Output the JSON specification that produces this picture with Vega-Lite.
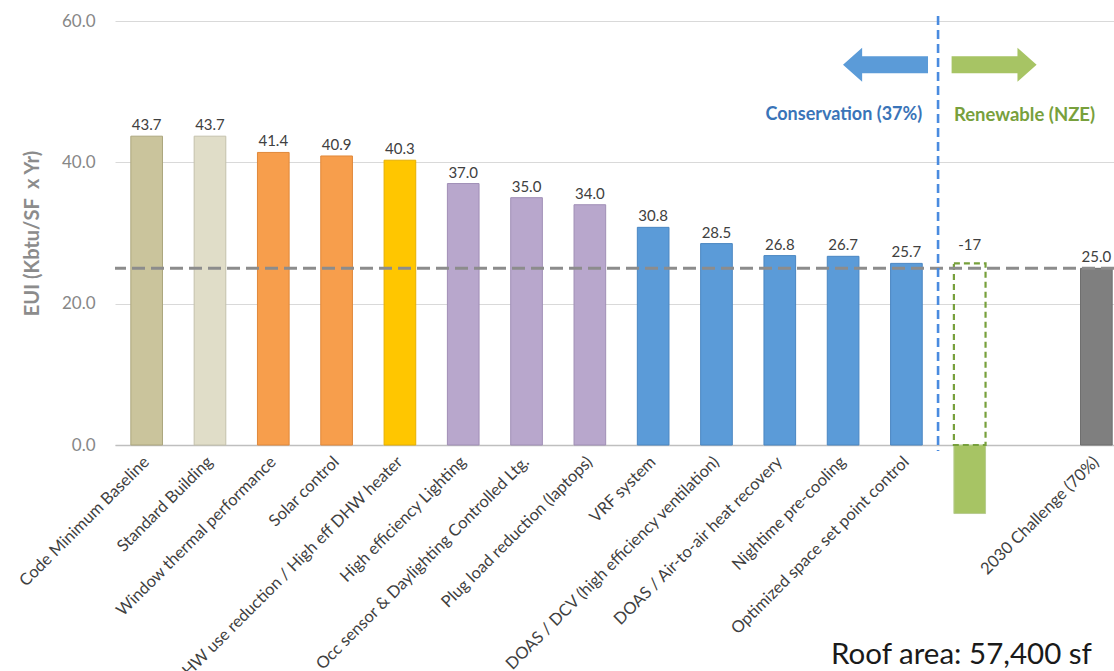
{
  "$schema": "https://vega.github.io/schema/vega-lite/v6.json",
  "width": 999,
  "height": 424,
  "autosize": {"type": "none"},
  "padding": {"left": 115, "top": 21, "right": 0, "bottom": 226},
  "background": "white",
  "config": {"view": {"stroke": null}, "font": "Lato"},
  "datasets": {
    "bars": [
      {"cat": "Code Minimum Baseline", "value": 43.7, "group": "Baseline"},
      {"cat": "Standard Building", "value": 43.7, "group": "Standard"},
      {"cat": "Window thermal performance", "value": 41.4, "group": "Envelope"},
      {"cat": "Solar control", "value": 40.9, "group": "Envelope"},
      {"cat": "DHW use reduction / High eff DHW heater", "value": 40.3, "group": "DHW"},
      {"cat": "High efficiency Lighting", "value": 37.0, "group": "Lighting"},
      {"cat": "Occ sensor & Daylighting Controlled Ltg.", "value": 35.0, "group": "Lighting"},
      {"cat": "Plug load reduction (laptops)", "value": 34.0, "group": "Lighting"},
      {"cat": "VRF system", "value": 30.8, "group": "HVAC"},
      {"cat": "DOAS / DCV (high efficiency ventilation)", "value": 28.5, "group": "HVAC"},
      {"cat": "DOAS / Air-to-air heat recovery", "value": 26.8, "group": "HVAC"},
      {"cat": "Nightime pre-cooling", "value": 26.7, "group": "HVAC"},
      {"cat": "Optimized space set point control", "value": 25.7, "group": "HVAC"},
      {"cat": "Renewable", "value": -9.7, "group": "Renewable"},
      {"cat": "2030 Challenge (70%)", "value": 25.0, "group": "Target"}
    ],
    "ghost": [
      {"cat": "Renewable", "from": 0, "to": 25.7, "label": "-17"}
    ],
    "arrows": [
      {"cat": "Nightime pre-cooling", "y": 53.8, "dir": "left"},
      {"cat": "Renewable", "y": 53.8, "dir": "right"}
    ]
  },
  "encoding": {
    "x": {
      "field": "cat",
      "type": "nominal",
      "sort": null,
      "scale": {
        "domain": ["Code Minimum Baseline", "Standard Building", "Window thermal performance", "Solar control", "DHW use reduction / High eff DHW heater", "High efficiency Lighting", "Occ sensor & Daylighting Controlled Ltg.", "Plug load reduction (laptops)", "VRF system", "DOAS / DCV (high efficiency ventilation)", "DOAS / Air-to-air heat recovery", "Nightime pre-cooling", "Optimized space set point control", "Renewable", "Gap", "2030 Challenge (70%)"],
        "range": [0, 1013],
        "paddingInner": 0.5,
        "paddingOuter": 0.25
      },
      "axis": {
        "title": null,
        "labelAngle": -45,
        "labelAlign": "right",
        "labelBaseline": "middle",
        "labelPadding": 14,
        "labelFontSize": 16.5,
        "labelColor": "#404040",
        "labelLimit": 0,
        "labelOverlap": false,
        "ticks": false,
        "domainColor": "#BFBFBF",
        "domainWidth": 1.5,
        "labelExpr": "datum.value == 'Renewable' || datum.value == 'Gap' ? '' : datum.value"
      }
    }
  },
  "layer": [
    {
      "data": {"name": "bars"},
      "mark": {"type": "bar", "strokeWidth": 1},
      "encoding": {
        "y": {
          "field": "value",
          "type": "quantitative",
          "scale": {"domain": [0, 60], "nice": false, "zero": false},
          "axis": {
            "title": "EUI (Kbtu/SF\u00a0 x Yr)",
            "titleFontSize": 20,
            "titleFontWeight": "bold",
            "titleColor": "#8C8C8C",
            "titlePadding": 19,
            "values": [0, 20, 40, 60],
            "format": ".1f",
            "labelFontSize": 17,
            "labelColor": "#878787",
            "labelPadding": 20,
            "ticks": false,
            "domain": false,
            "gridColor": "#D9D9D9",
            "gridWidth": 1.2
          }
        },
        "color": {
          "field": "group",
          "type": "nominal",
          "legend": null,
          "scale": {
            "domain": ["Baseline", "Standard", "Envelope", "DHW", "Lighting", "HVAC", "Renewable", "Target"],
            "range": ["#CAC49C", "#E0DDC8", "#F79E4C", "#FFC600", "#B8A7CC", "#5B9BD8", "#A7C464", "#7F7F7F"]
          }
        },
        "stroke": {
          "field": "group",
          "type": "nominal",
          "legend": null,
          "scale": {
            "domain": ["Baseline", "Standard", "Envelope", "DHW", "Lighting", "HVAC", "Renewable", "Target"],
            "range": ["#ACA67E", "#C4C1AC", "#E0883A", "#E6B000", "#A08FB6", "#4A86C2", "#B8CC90", "#6E6E6E"]
          }
        }
      }
    },
    {
      "data": {"name": "ghost"},
      "mark": {"type": "bar", "fill": null, "fillOpacity": 0, "stroke": "#77A03C", "strokeWidth": 2.2, "strokeDash": [6, 4]},
      "encoding": {
        "y": {"field": "from", "type": "quantitative"},
        "y2": {"field": "to"}
      }
    },
    {
      "data": {"values": [{"ref": 25}]},
      "mark": {"type": "rule", "color": "#8C8C8C", "strokeWidth": 3, "strokeDash": [13, 6]},
      "encoding": {"x": null, "y": {"field": "ref", "type": "quantitative"}}
    },
    {
      "data": {"values": [{"cat": "Optimized space set point control", "top": 60.7, "bottom": -0.85}]},
      "mark": {"type": "rule", "color": "#4A8BDF", "strokeWidth": 2.6, "strokeDash": [9, 5]},
      "encoding": {
        "x": {"field": "cat", "type": "nominal", "bandPosition": 1.5},
        "y": {"field": "top", "type": "quantitative"},
        "y2": {"field": "bottom"}
      }
    },
    {
      "data": {"name": "bars"},
      "transform": [{"filter": "datum.value > 0"}],
      "mark": {"type": "text", "baseline": "bottom", "dy": -3, "fontSize": 15, "color": "#404040"},
      "encoding": {
        "y": {"field": "value", "type": "quantitative"},
        "text": {"field": "value", "type": "quantitative", "format": ".1f"}
      }
    },
    {
      "data": {"name": "ghost"},
      "mark": {"type": "text", "baseline": "bottom", "dy": -10, "fontSize": 15, "color": "#404040"},
      "encoding": {
        "y": {"field": "to", "type": "quantitative"},
        "text": {"field": "label"}
      }
    },
    {
      "data": {"name": "arrows"},
      "transform": [{"filter": "datum.dir == 'left'"}],
      "mark": {"type": "point", "filled": true, "opacity": 1, "size": 7225, "color": "#5B9BD8", "shape": "M -1 0 L -0.55 -0.4 L -0.55 -0.2 L 1 -0.2 L 1 0.2 L -0.55 0.2 L -0.55 0.4 Z"},
      "encoding": {
        "x": {"field": "cat", "type": "nominal", "bandPosition": 1.84},
        "y": {"field": "y", "type": "quantitative"}
      }
    },
    {
      "data": {"name": "arrows"},
      "transform": [{"filter": "datum.dir == 'right'"}],
      "mark": {"type": "point", "filled": true, "opacity": 1, "size": 7225, "color": "#A7C464", "shape": "M 1 0 L 0.55 -0.4 L 0.55 -0.2 L -1 -0.2 L -1 0.2 L 0.55 0.2 L 0.55 0.4 Z"},
      "encoding": {
        "x": {"field": "cat", "type": "nominal", "bandPosition": 1.27},
        "y": {"field": "y", "type": "quantitative"}
      }
    },
    {
      "data": {"values": [{"cat": "Optimized space set point control", "y": 46.7, "text": "Conservation (37%)"}]},
      "mark": {"type": "text", "align": "right", "baseline": "middle", "fontSize": 18, "fontWeight": "bold", "color": "#3A74B8"},
      "encoding": {
        "x": {"field": "cat", "type": "nominal", "bandPosition": 1.0},
        "y": {"field": "y", "type": "quantitative"},
        "text": {"field": "text"}
      }
    },
    {
      "data": {"values": [{"cat": "Renewable", "y": 46.7, "text": "Renewable (NZE)"}]},
      "mark": {"type": "text", "align": "left", "baseline": "middle", "fontSize": 18.5, "fontWeight": "bold", "color": "#78A03C"},
      "encoding": {
        "x": {"field": "cat", "type": "nominal", "bandPosition": 0},
        "y": {"field": "y", "type": "quantitative"},
        "text": {"field": "text"}
      }
    },
    {
      "data": {"values": [{"cat": "Nightime pre-cooling", "y": -31.0, "text": "Roof area: 57,400 sf"}]},
      "mark": {"type": "text", "align": "left", "baseline": "alphabetic", "fontSize": 29.5, "color": "#1A1A1A"},
      "encoding": {
        "x": {"field": "cat", "type": "nominal", "bandPosition": 0.12},
        "y": {"field": "y", "type": "quantitative"},
        "text": {"field": "text"}
      }
    }
  ]
}
